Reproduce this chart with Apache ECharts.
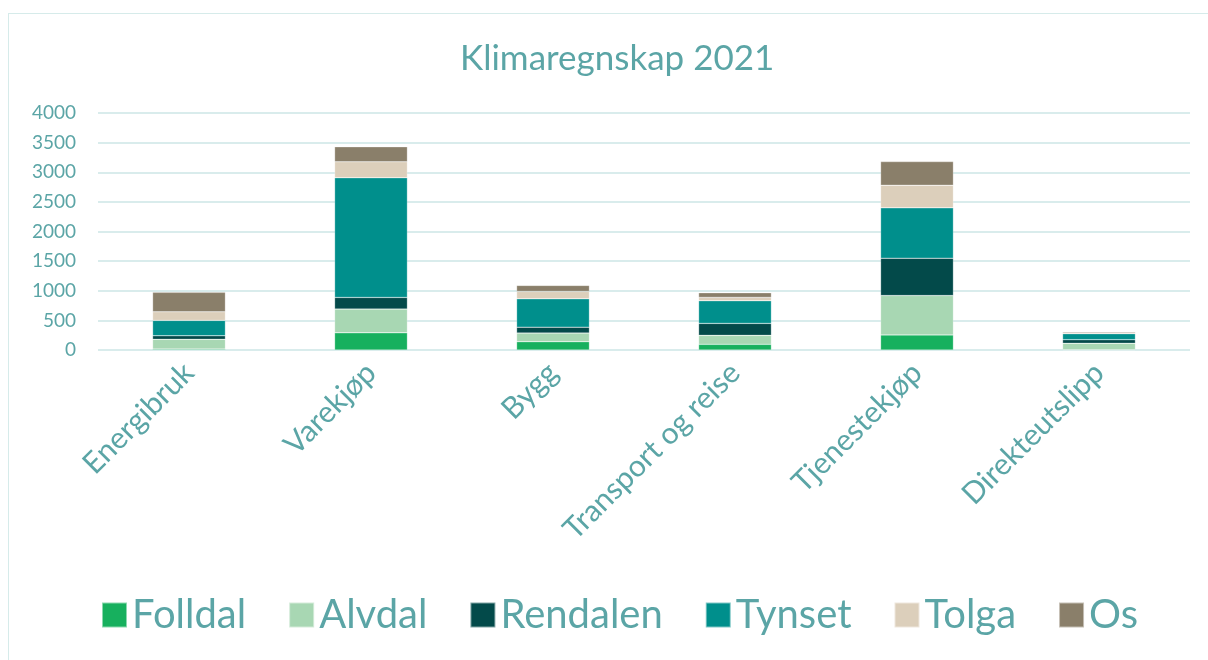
<!DOCTYPE html>
<html>
<head>
<meta charset="utf-8">
<script src="https://cdn.jsdelivr.net/npm/echarts@6/dist/echarts.min.js"></script>
<style>
  html, body { margin: 0; padding: 0; background: #fff; }
  #frame { position: absolute; left: 8px; top: 13px; width: 1210px; height: 660px; border: 1px solid #d6ebea; box-sizing: border-box; }
  #main { position: absolute; left: 0; top: 0; width: 1208px; height: 660px; }
</style>
</head>
<body>
<div id="frame"></div>
<div id="main"></div>
<script>
// kategorier og verdier lest av figuren
var categories = ['Energibruk', 'Varekjøp', 'Bygg', 'Transport og reise', 'Tjenestekjøp', 'Direkteutslipp'];
var folldal  = [15, 290, 140, 95, 255, 5];
var alvdal   = [165, 400, 146, 152, 664, 108];
var rendalen = [60, 197, 100, 202, 630, 61];
var tynset   = [260, 2020, 478, 382, 850, 101];
var tolga    = [145, 270, 124, 57, 382, 15];
var os       = [328, 253, 102, 78, 399, 19];

var textColor = '#5ba5a6';

function serie(name, data, color) {
    return {
        name: name,
        type: 'bar',
        stack: 'total',
        barWidth: '40%',
        itemStyle: { color: color, borderColor: 'rgba(255,255,255,0.5)', borderWidth: 0.5 },
        data: data
    };
}

var chart = echarts.init(document.getElementById('main'));
var option = {
    title: {
        text: 'Klimaregnskap 2021',
        left: 455,
        top: 36,
        textStyle: { color: textColor, fontSize: 35, fontWeight: 'normal', fontFamily: 'Lato' }
    },
    legend: {
        bottom: 20,
        left: 96,
        itemWidth: 25,
        itemHeight: 25,
        itemGap: 42,
        icon: 'rect',
        textStyle: { color: textColor, fontSize: 40, fontFamily: 'Lato' },
        data: ['Folldal', 'Alvdal', 'Rendalen', 'Tynset', 'Tolga', 'Os']
    },
    grid: {
        left: 98,
        right: 18,
        top: 113,
        height: 237
    },
    xAxis: {
        type: 'category',
        data: categories,
        axisLine: { show: false },
        axisTick: { show: false },
        axisLabel: {
            rotate: 45,
            interval: 0,
            margin: 18,
            color: textColor,
            fontSize: 30,
            fontFamily: 'Lato'
        }
    },
    yAxis: {
        type: 'value',
        min: 0,
        max: 4000,
        interval: 500,
        axisLine: { show: false },
        axisTick: { show: false },
        splitLine: { lineStyle: { color: '#d9ecec', width: 2 } },
        axisLabel: {
            color: textColor,
            fontSize: 19,
            fontFamily: 'Lato',
            margin: 22,
            formatter: function (v) { return String(v); }
        }
    },
    series: [
        serie('Folldal', folldal, '#17b05e'),
        serie('Alvdal', alvdal, '#a8d7b3'),
        serie('Rendalen', rendalen, '#034a4a'),
        serie('Tynset', tynset, '#008f8c'),
        serie('Tolga', tolga, '#dccfbb'),
        serie('Os', os, '#8a7f6a')
    ]
};
chart.setOption(option);
</script>
</body>
</html>
